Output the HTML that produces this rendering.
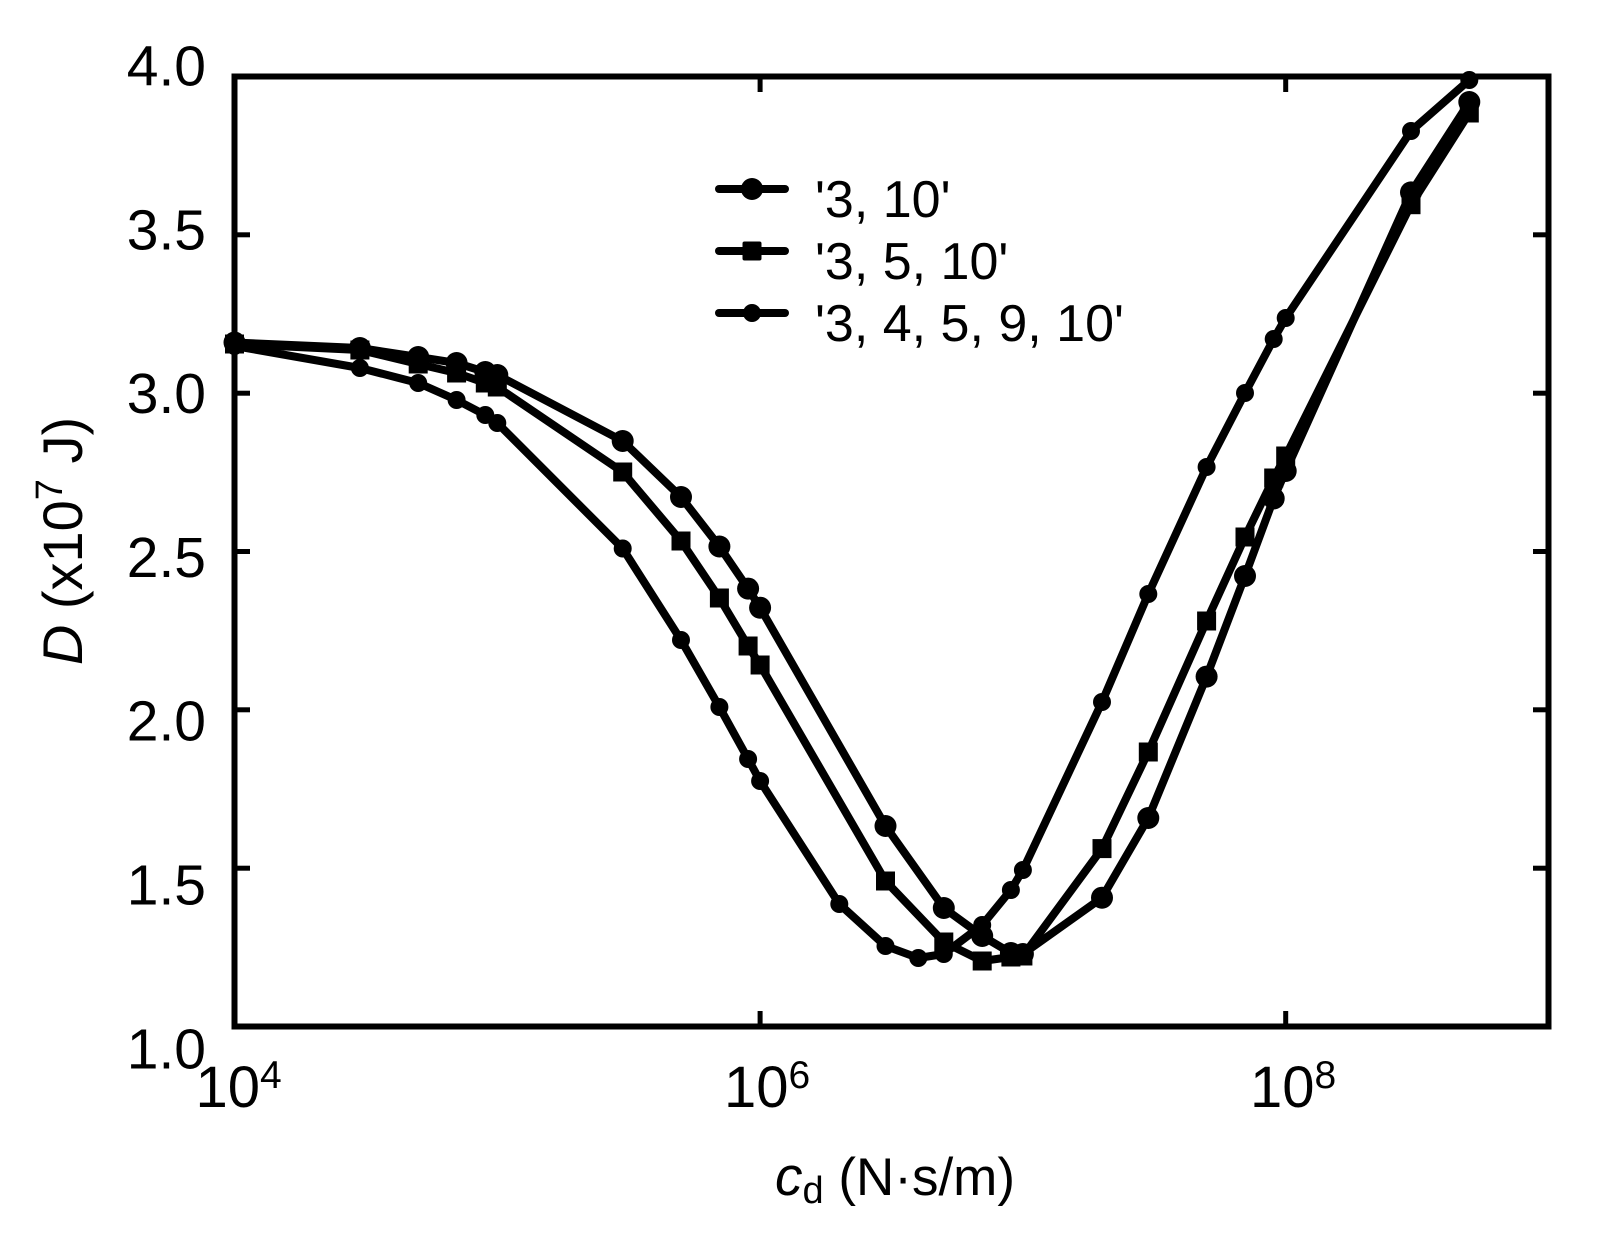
<!DOCTYPE html>
<html>
<head>
<meta charset="utf-8">
<style>
  html, body { margin: 0; padding: 0; background: #fff; }
  svg { display: block; }
  text { font-family: "Liberation Sans", Arial, sans-serif; fill: #000; }
</style>
</head>
<body>
<svg width="1605" height="1240" viewBox="0 0 1605 1240" xmlns="http://www.w3.org/2000/svg">
  <rect x="0" y="0" width="1605" height="1240" fill="#fff"/>

  <!-- Frame -->
  <rect x="234.5" y="76.5" width="1314" height="950" fill="none" stroke="#000" stroke-width="6"/>

  <!-- Ticks -->
  <g stroke="#000" stroke-width="5">
    <line x1="234.5" y1="234.8" x2="250" y2="234.8"/>
    <line x1="234.5" y1="393.2" x2="250" y2="393.2"/>
    <line x1="234.5" y1="551.5" x2="250" y2="551.5"/>
    <line x1="234.5" y1="709.8" x2="250" y2="709.8"/>
    <line x1="234.5" y1="868.2" x2="250" y2="868.2"/>
    <line x1="1548.5" y1="234.8" x2="1533" y2="234.8"/>
    <line x1="1548.5" y1="393.2" x2="1533" y2="393.2"/>
    <line x1="1548.5" y1="551.5" x2="1533" y2="551.5"/>
    <line x1="1548.5" y1="709.8" x2="1533" y2="709.8"/>
    <line x1="1548.5" y1="868.2" x2="1533" y2="868.2"/>
    <line x1="760.1" y1="1026.5" x2="760.1" y2="1011"/>
    <line x1="1285.7" y1="1026.5" x2="1285.7" y2="1011"/>
    <line x1="760.1" y1="76.5" x2="760.1" y2="92"/>
    <line x1="1285.7" y1="76.5" x2="1285.7" y2="92"/>
  </g>

  <!-- Y tick labels -->
  <g font-size="57" text-anchor="end">
    <text x="206" y="85.5">4.0</text>
    <text x="206" y="249.3">3.5</text>
    <text x="206" y="413.1">3.0</text>
    <text x="206" y="576.9">2.5</text>
    <text x="206" y="740.7">2.0</text>
    <text x="206" y="904.5">1.5</text>
    <text x="206" y="1068.3">1.0</text>
  </g>

  <!-- X tick labels -->
  <g font-size="58">
    <text x="195.5" y="1107">10<tspan font-size="39" dy="-19">4</tspan></text>
    <text x="724" y="1107">10<tspan font-size="39" dy="-19">6</tspan></text>
    <text x="1250" y="1107">10<tspan font-size="39" dy="-19">8</tspan></text>
  </g>

  <!-- Axis titles -->
  <text x="775" y="1195" font-size="53"><tspan font-style="italic" font-size="55">c</tspan><tspan font-size="38" dy="8">d</tspan><tspan dy="-8"> (N·s/m)</tspan></text>
  <text transform="translate(82,541) rotate(-90)" text-anchor="middle" font-size="56"><tspan font-style="italic">D</tspan> (x10<tspan font-size="38" dy="-20">7</tspan><tspan dy="20"> J)</tspan></text>

  <!-- Series lines -->
  <g fill="none" stroke="#000" stroke-width="8" stroke-linejoin="round" stroke-linecap="round">
    <polyline points="234.5,342.5 359.9,348 418.2,357 456.6,363 485.3,372 497.3,375 622.7,441 681,497 719.4,546.5 748.1,588.6 760.1,607.7 885.5,826 943.8,908 982.2,936 1010.9,953 1022.9,954 1102,897.7 1148.3,818 1206.6,676.6 1245,576 1273.7,498.5 1285.7,471 1411,192.4 1469.3,102"/>
    <polyline points="234.5,344 359.9,350 418.2,364 456.6,373 485.3,383 497.3,387 622.7,472 681,541 719.4,598 748.1,646 760.1,665 885.5,881 943.8,942 982.2,961 1010.9,957 1022.9,956 1102,848.6 1148.3,752 1206.6,621 1245,537 1273.7,478 1285.7,456 1411,204.7 1469.3,113"/>
    <polyline points="234.5,346 359.9,368 418.2,383 456.6,400 485.3,415 497.3,423 622.7,548.5 681,640 719.4,707 748.1,759 760.1,781 839.3,904 885.5,946 918.3,958 943.8,954 982.2,925 1010.9,890 1022.9,870 1102,702 1148.3,594 1206.6,467 1245,393 1273.7,339 1285.7,318 1411,131 1469.3,80"/>
  </g>

  <!-- Series A markers (large circles) -->
  <g fill="#000">
    <circle cx="234.5" cy="342.5" r="11"/><circle cx="359.9" cy="348" r="11"/><circle cx="418.2" cy="357" r="11"/>
    <circle cx="456.6" cy="363" r="11"/><circle cx="485.3" cy="372" r="11"/><circle cx="497.3" cy="375" r="11"/>
    <circle cx="622.7" cy="441" r="11"/><circle cx="681" cy="497" r="11"/><circle cx="719.4" cy="546.5" r="11"/>
    <circle cx="748.1" cy="588.6" r="11"/><circle cx="760.1" cy="607.7" r="11"/><circle cx="885.5" cy="826" r="11"/>
    <circle cx="943.8" cy="908" r="11"/><circle cx="982.2" cy="936" r="11"/><circle cx="1010.9" cy="953" r="11"/>
    <circle cx="1022.9" cy="954" r="11"/><circle cx="1102" cy="897.7" r="11"/><circle cx="1148.3" cy="818" r="11"/>
    <circle cx="1206.6" cy="676.6" r="11"/><circle cx="1245" cy="576" r="11"/><circle cx="1273.7" cy="498.5" r="11"/>
    <circle cx="1285.7" cy="471" r="11"/><circle cx="1411" cy="192.4" r="11"/><circle cx="1469.3" cy="102" r="11"/>
  </g>

  <!-- Series B markers (squares) -->
  <g fill="#000">
    <rect x="225" y="334.5" width="19" height="19"/><rect x="350.4" y="340.5" width="19" height="19"/><rect x="408.7" y="354.5" width="19" height="19"/>
    <rect x="447.1" y="363.5" width="19" height="19"/><rect x="475.8" y="373.5" width="19" height="19"/><rect x="487.8" y="377.5" width="19" height="19"/>
    <rect x="613.2" y="462.5" width="19" height="19"/><rect x="671.5" y="531.5" width="19" height="19"/><rect x="709.9" y="588.5" width="19" height="19"/>
    <rect x="738.6" y="636.5" width="19" height="19"/><rect x="750.6" y="655.5" width="19" height="19"/><rect x="876" y="871.5" width="19" height="19"/>
    <rect x="934.3" y="932.5" width="19" height="19"/><rect x="972.7" y="951.5" width="19" height="19"/><rect x="1001.4" y="947.5" width="19" height="19"/>
    <rect x="1013.4" y="946.5" width="19" height="19"/><rect x="1092.5" y="839.1" width="19" height="19"/><rect x="1138.8" y="742.5" width="19" height="19"/>
    <rect x="1197.1" y="611.5" width="19" height="19"/><rect x="1235.5" y="527.5" width="19" height="19"/><rect x="1264.2" y="468.5" width="19" height="19"/>
    <rect x="1276.2" y="446.5" width="19" height="19"/><rect x="1401.5" y="195.2" width="19" height="19"/><rect x="1459.8" y="103.5" width="19" height="19"/>
  </g>

  <!-- Series C markers (small circles) -->
  <g fill="#000">
    <circle cx="234.5" cy="346" r="9"/><circle cx="359.9" cy="368" r="9"/><circle cx="418.2" cy="383" r="9"/>
    <circle cx="456.6" cy="400" r="9"/><circle cx="485.3" cy="415" r="9"/><circle cx="497.3" cy="423" r="9"/>
    <circle cx="622.7" cy="548.5" r="9"/><circle cx="681" cy="640" r="9"/><circle cx="719.4" cy="707" r="9"/>
    <circle cx="748.1" cy="759" r="9"/><circle cx="760.1" cy="781" r="9"/><circle cx="839.3" cy="904" r="9"/>
    <circle cx="885.5" cy="946" r="9"/><circle cx="918.3" cy="958" r="9"/><circle cx="943.8" cy="954" r="9"/>
    <circle cx="982.2" cy="925" r="9"/><circle cx="1010.9" cy="890" r="9"/><circle cx="1022.9" cy="870" r="9"/>
    <circle cx="1102" cy="702" r="9"/><circle cx="1148.3" cy="594" r="9"/><circle cx="1206.6" cy="467" r="9"/>
    <circle cx="1245" cy="393" r="9"/><circle cx="1273.7" cy="339" r="9"/><circle cx="1285.7" cy="318" r="9"/>
    <circle cx="1411" cy="131" r="9"/><circle cx="1469.3" cy="80" r="9"/>
  </g>

  <!-- Legend -->
  <g stroke="#000" stroke-width="8" stroke-linecap="round">
    <line x1="719" y1="189" x2="785" y2="189"/>
    <line x1="719" y1="251" x2="785" y2="251"/>
    <line x1="719" y1="313" x2="785" y2="313"/>
  </g>
  <g fill="#000">
    <circle cx="752" cy="189" r="11"/>
    <rect x="742.5" y="241.5" width="19" height="19" rx="2"/>
    <circle cx="752" cy="313" r="9"/>
  </g>
  <g font-size="52">
    <text x="815" y="217">'3, 10'</text>
    <text x="815" y="279">'3, 5, 10'</text>
    <text x="815" y="341">'3, 4, 5, 9, 10'</text>
  </g>
</svg>
</body>
</html>
